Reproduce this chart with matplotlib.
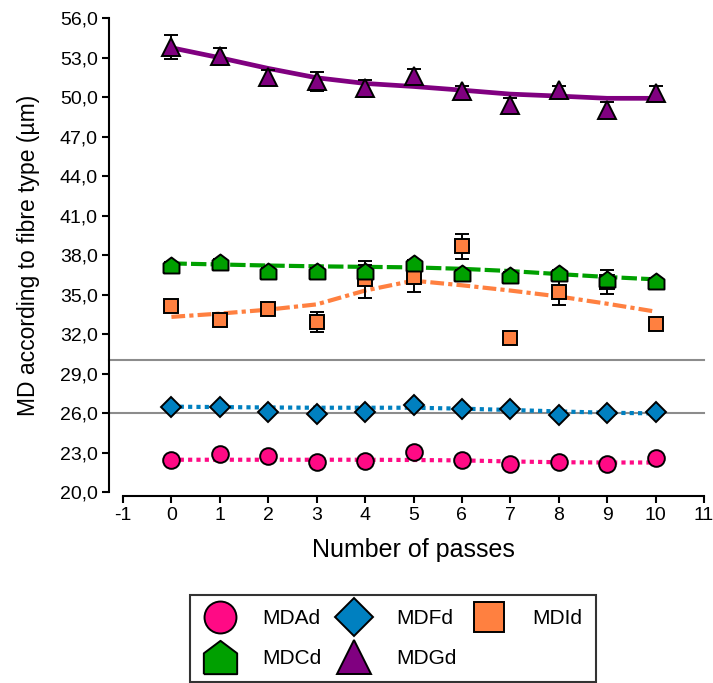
import matplotlib
matplotlib.use("Agg")
import matplotlib.pyplot as plt
from matplotlib.lines import Line2D
from matplotlib.ticker import FuncFormatter

plt.rcParams['font.family'] = ['Liberation Sans', 'DejaVu Sans']
plt.rcParams['axes.unicode_minus'] = False

# Number of passes
passes = [0, 1, 2, 3, 4, 5, 6, 7, 8, 9, 10]

# Mean diameters (µm) and their errors per fibre type
mdad = [22.42, 22.88, 22.72, 22.28, 22.38, 23.05, 22.42, 22.10, 22.28, 22.10, 22.55]
mdad_err = [0.15, 0.15, 0.15, 0.15, 0.15, 0.15, 0.15, 0.15, 0.15, 0.15, 0.15]
mdad_trend = [22.45, 22.45, 22.45, 22.45, 22.45, 22.43, 22.40, 22.32, 22.26, 22.24, 22.24]

mdfd = [26.43, 26.43, 26.10, 25.92, 26.10, 26.60, 26.28, 26.28, 25.85, 25.97, 26.10]
mdfd_err = [0.10, 0.10, 0.10, 0.10, 0.10, 0.10, 0.10, 0.10, 0.10, 0.10, 0.10]
mdfd_trend = [26.48, 26.45, 26.42, 26.40, 26.40, 26.40, 26.33, 26.23, 26.12, 26.02, 25.97]

mdid = [34.15, 33.06, 33.90, 32.93, 36.15, 36.35, 38.65, 31.72, 35.20, 35.97, 32.76]
mdid_err = [0.20, 0.20, 0.20, 0.75, 1.40, 1.15, 0.95, 0.20, 1.00, 0.90, 0.20]
mdid_trend = [33.30, 33.55, 33.85, 34.25, 35.30, 36.05, 35.70, 35.30, 34.85, 34.30, 33.70]

mdcd = [37.24, 37.44, 36.80, 36.80, 36.80, 37.36, 36.65, 36.48, 36.65, 36.20, 36.05]
mdcd_err = [0.25, 0.25, 0.20, 0.20, 0.45, 0.25, 0.20, 0.20, 0.20, 0.20, 0.20]
mdcd_trend = [37.36, 37.28, 37.20, 37.14, 37.10, 37.06, 36.95, 36.78, 36.55, 36.33, 36.15]

mdgd = [53.78, 53.08, 51.50, 51.20, 50.65, 51.60, 50.45, 49.40, 50.55, 49.05, 50.30]
mdgd_err = [0.90, 0.65, 0.55, 0.73, 0.65, 0.55, 0.42, 0.55, 0.30, 0.55, 0.55]
mdgd_trend = [53.74, 52.98, 52.17, 51.46, 51.03, 50.80, 50.52, 50.22, 50.07, 49.90, 49.90]

ref_levels = [30.0, 26.0]

x_ticks = list(range(-1, 12))
y_ticks = [20, 23, 26, 29, 32, 35, 38, 41, 44, 47, 50, 53, 56]

house = [(-1, -1), (1, -1), (1, 0.25), (0, 1), (-1, 0.25), (-1, -1)]

series = [
    # label, values, errors, trend, colour, marker, size, dash pattern, trend lw
    ("MDId", mdid, mdid_err, mdid_trend, "#FF8040", "s", 10.5, (0, (3.3, 1.0, 1.0, 1.0)), 3.0),
    ("MDCd", mdcd, mdcd_err, mdcd_trend, "#00A000", house, 11.5, (0, (3.7, 1.0)), 3.0),
    ("MDFd", mdfd, mdfd_err, mdfd_trend, "#0080C0", "D", 10.0, (0, (1.0, 1.0)), 3.0),
    ("MDAd", mdad, mdad_err, mdad_trend, "#FF0A85", "o", 12.0, (0, (1.0, 1.0)), 3.0),
    ("MDGd", mdgd, mdgd_err, mdgd_trend, "#800080", "^", 13.0, "-", 3.4),
]

fig = plt.figure(figsize=(7.13, 6.83), dpi=100)
ax_left, ax_right = 123, 704
ax = fig.add_axes([ax_left / 713, 1 - 492 / 683, (ax_right - ax_left) / 713, (492 - 18) / 683])

for lvl in ref_levels:
    ax.axhline(lvl, xmin=-14 / (ax_right - ax_left), xmax=1.0, color="#8C8C8C", lw=1.5,
               clip_on=False, zorder=1)

z = 2
for label, vals, errs, trend, col, mk, ms, ls, tlw in series:
    ax.plot(passes, trend, color=col, lw=tlw, linestyle=ls, zorder=z,
            solid_capstyle="butt", dash_capstyle="butt")
    ax.errorbar(passes, vals, yerr=errs, fmt="none", ecolor="black",
                elinewidth=1.4, capsize=5, capthick=1.4, zorder=z + 0.5)
    ax.plot(passes, vals, linestyle="none", marker=mk, markersize=ms,
            markerfacecolor=col, markeredgecolor="black", markeredgewidth=1.4,
            zorder=z + 0.7)
    z += 1

ax.set_xlim(-1, 11)
ax.set_ylim(20, 56)
ax.set_xticks(x_ticks)
ax.set_yticks(y_ticks)
ax.yaxis.set_major_formatter(FuncFormatter(lambda v, p: f"{v:.1f}".replace(".", ",")))

for s in ("top", "right"):
    ax.spines[s].set_visible(False)
ax.spines["left"].set_position(("outward", 10))
ax.spines["bottom"].set_position(("outward", 3))
for s in ("left", "bottom"):
    ax.spines[s].set_linewidth(1.5)
ax.tick_params(axis="both", direction="out", length=5, width=1.5,
               labelsize=14, pad=3, colors="black")

ax.set_xlabel("Number of passes", fontsize=18, labelpad=10)
ax.set_ylabel("MD according to fibre type (µm)", fontsize=16.5, labelpad=14)

handles = [
    Line2D([], [], linestyle="none", marker="o", markersize=23,
           markerfacecolor="#FF0A85", markeredgecolor="black", markeredgewidth=1.4, label="MDAd"),
    Line2D([], [], linestyle="none", marker=house, markersize=24,
           markerfacecolor="#00A000", markeredgecolor="black", markeredgewidth=1.4, label="MDCd"),
    Line2D([], [], linestyle="none", marker="D", markersize=19,
           markerfacecolor="#0080C0", markeredgecolor="black", markeredgewidth=1.4, label="MDFd"),
    Line2D([], [], linestyle="none", marker="^", markersize=24,
           markerfacecolor="#800080", markeredgecolor="black", markeredgewidth=1.4, label="MDGd"),
    Line2D([], [], linestyle="none", marker="s", markersize=22,
           markerfacecolor="#FF8040", markeredgecolor="black", markeredgewidth=1.4, label="MDId"),
]
leg = fig.legend(handles=handles, ncol=3, loc="upper left",
                 bbox_to_anchor=(190 / 713, 1 - 595 / 683),
                 fontsize=15, frameon=True, fancybox=False, edgecolor="black",
                 handlelength=1.5, handletextpad=1.3, columnspacing=0.8,
                 labelspacing=1.0, borderpad=0.68, borderaxespad=0)
leg.get_frame().set_linewidth(1.5)

fig.savefig("out.png", dpi=100)
